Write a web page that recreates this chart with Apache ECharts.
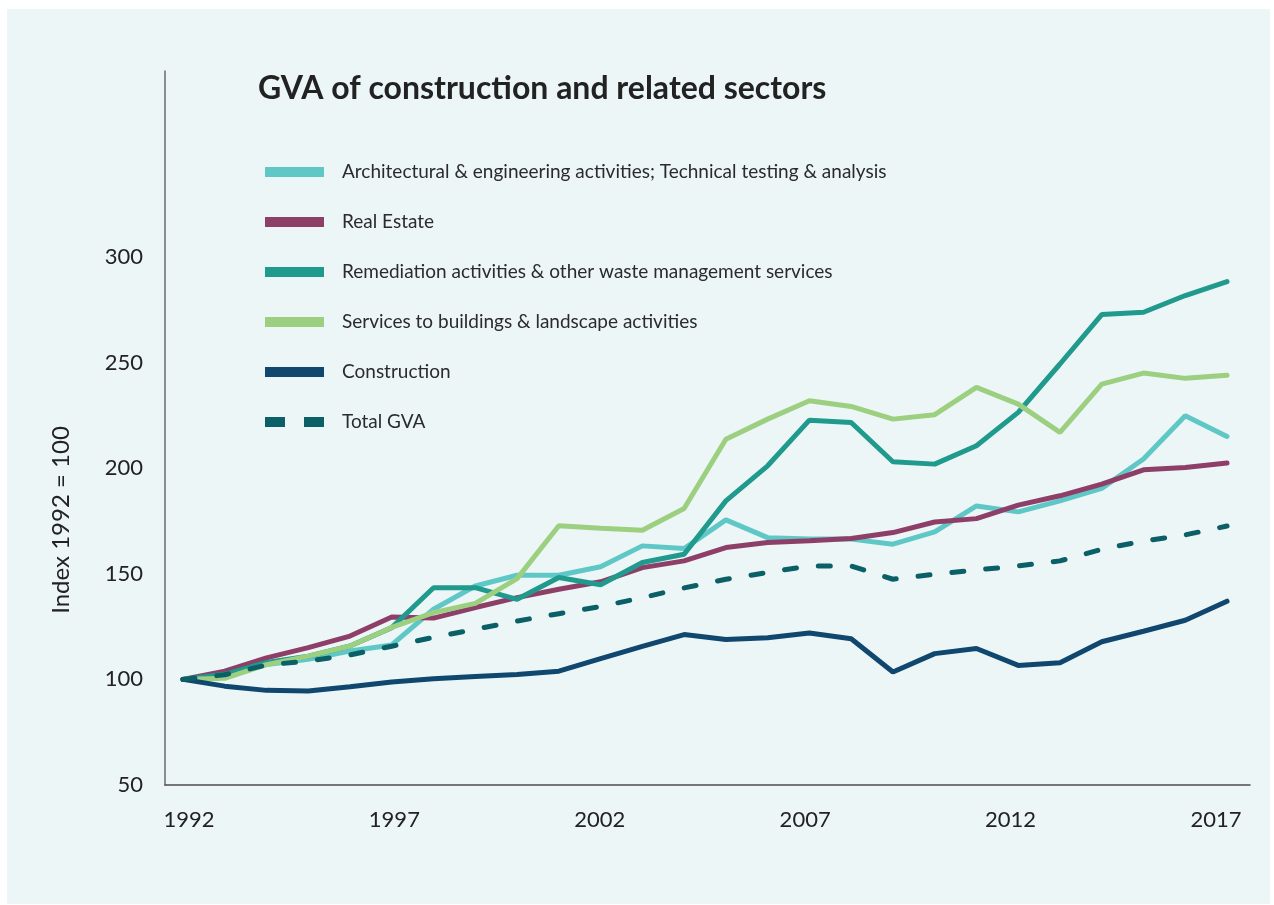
<!DOCTYPE html>
<html>
<head>
<meta charset="utf-8">
<title>GVA of construction and related sectors</title>
<script src="https://cdn.jsdelivr.net/npm/echarts@6/dist/echarts.min.js"></script>
<style>
html, body { margin: 0; padding: 0; background: #fff; }
#main { width: 1274px; height: 905px; }
</style>
</head>
<body>
<div id="main"></div>
<script>
// index, 1992 = 100
var years = [1992, 1993, 1994, 1995, 1996, 1997, 1998, 1999, 2000, 2001, 2002, 2003, 2004,
    2005, 2006, 2007, 2008, 2009, 2010, 2011, 2012, 2013, 2014, 2015, 2016, 2017];
var yearLabels = [1992, 1997, 2002, 2007, 2012, 2017];
var valueLabels = [50, 100, 150, 200, 250, 300];

var architectural = [100, 101.6, 107, 109.5, 113.4, 116.3, 133.2, 144.2, 149.3, 149.3, 153.3, 163.2, 161.9,
    175.5, 167.1, 166.4, 166.4, 164, 169.8, 182.1, 179.3, 184.5, 190.4, 204.3, 224.8, 215];
var realEstate = [100, 103.9, 110.2, 115, 120.5, 129.5, 129, 134, 138.7, 142.7, 146.2, 152.9, 156.1,
    162.4, 164.8, 165.6, 166.7, 169.5, 174.5, 176.1, 182.5, 186.9, 192.4, 199.2, 200.3, 202.4];
var remediation = [100, 102.4, 108, 111, 115.8, 124.5, 143.4, 143.4, 137.9, 148.2, 144.8, 155.3, 159.2,
    184.5, 201.1, 222.7, 221.6, 203, 201.9, 210.6, 226.4, 249.3, 272.7, 273.8, 281.7, 288.3];
var services = [100, 100.5, 107, 111, 115.8, 124.6, 131.6, 136, 147.7, 172.7, 171.5, 170.6, 180.9,
    213.7, 223.2, 231.9, 229.2, 223.2, 225.3, 238.2, 230.3, 216.9, 239.8, 245, 242.5, 244];
var construction = [100, 96.8, 94.8, 94.5, 96.5, 98.8, 100.3, 101.4, 102.3, 103.9, 109.8, 115.6, 121.2,
    118.9, 119.7, 122, 119.2, 103.5, 112.2, 114.6, 106.6, 107.9, 117.8, 122.8, 128, 137];
var totalGva = [100, 102.2, 106.8, 108.7, 111.6, 115.7, 119.9, 123.7, 127.6, 131.1, 134.5, 138.7, 143.3,
    147.4, 150.6, 153.7, 153.7, 147.4, 149.8, 151.8, 153.7, 156.1, 161.6, 165.5, 168.4, 172.6];

var seriesNames = [
    'Architectural & engineering activities; Technical testing & analysis',
    'Real Estate',
    'Remediation activities & other waste management services',
    'Services to buildings & landscape activities',
    'Construction',
    'Total GVA'
];
var seriesColors = ['#5fc8c6', '#8e3f68', '#1f9a8c', '#9ccf80', '#10476f', '#0b5f66'];
var seriesValues = [architectural, realEstate, remediation, services, construction, totalGva];

var FONT = 'Lato';

function pairs(values) {
    return values.map(function (v, i) { return [years[i], v]; });
}

var chart = echarts.init(document.getElementById('main'));

var series = seriesValues.map(function (values, i) {
    var dashed = seriesNames[i] === 'Total GVA';
    return {
        name: seriesNames[i],
        type: 'line',
        xAxisIndex: 0,
        symbol: 'none',
        showSymbol: false,
        silent: true,
        color: seriesColors[i],
        lineStyle: {
            width: 5,
            color: seriesColors[i],
            cap: 'round',
            type: dashed ? [12, 22] : 'solid'
        },
        data: pairs(values)
    };
});

var legendData = seriesNames.map(function (name) {
    var item = { name: name };
    if (name === 'Total GVA') {
        item.lineStyle = { type: [20, 19], width: 10, cap: 'butt' };
    }
    return item;
});

var option = {
    backgroundColor: '#ffffff',
    animation: false,
    graphic: [{
        type: 'rect',
        z: -10,
        silent: true,
        shape: { x: 7, y: 9, width: 1263, height: 895 },
        style: { fill: '#ecf6f6' }
    }, {
        type: 'text',
        x: 61,
        y: 520,
        rotation: Math.PI / 2,
        silent: true,
        style: {
            text: 'Index 1992 = 100',
            font: '24px ' + FONT,
            fill: '#222',
            align: 'center',
            verticalAlign: 'middle'
        }
    }],
    title: {
        text: 'GVA of construction and related sectors',
        left: 258,
        top: 73,
        padding: 0,
        textStyle: {
            fontFamily: FONT,
            fontWeight: 'bold',
            fontSize: 32,
            color: '#222'
        }
    },
    legend: {
        orient: 'vertical',
        left: 260,
        top: 162,
        padding: 0,
        itemWidth: 59,
        itemHeight: 20,
        itemGap: 30,
        selectedMode: false,
        lineStyle: { width: 10, cap: 'butt' },
        itemStyle: { opacity: 0 },
        textStyle: {
            fontFamily: FONT,
            fontSize: 19,
            lineHeight: 20,
            color: '#2b2b2b',
            padding: [0, 0, 0, 13]
        },
        data: legendData
    },
    grid: {
        left: 165,
        right: 24,
        top: 71,
        bottom: 120,
        containLabel: false
    },
    xAxis: [{
        type: 'value',
        min: 1991.57,
        max: 2017.55,
        axisLine: { show: true, lineStyle: { color: '#4d4d4d', width: 1.5 } },
        axisTick: { show: false },
        axisLabel: { show: false },
        splitLine: { show: false }
    }, {
        type: 'value',
        position: 'bottom',
        min: 1991.416,
        max: 2017.83,
        axisLine: { show: false },
        axisTick: { show: false },
        splitLine: { show: false },
        axisLabel: {
            customValues: yearLabels,
            formatter: function (v) { return String(v); },
            margin: 24,
            fontFamily: FONT,
            fontSize: 22,
            color: '#222'
        }
    }],
    yAxis: {
        type: 'value',
        min: 50,
        max: 388,
        axisLine: { show: true, lineStyle: { color: '#6b6b6b', width: 1.5 } },
        axisTick: { show: false },
        splitLine: { show: false },
        axisLabel: {
            customValues: valueLabels,
            margin: 22,
            fontFamily: FONT,
            fontSize: 22,
            color: '#222'
        }
    },
    series: series
};

chart.setOption(option);
</script>
</body>
</html>
